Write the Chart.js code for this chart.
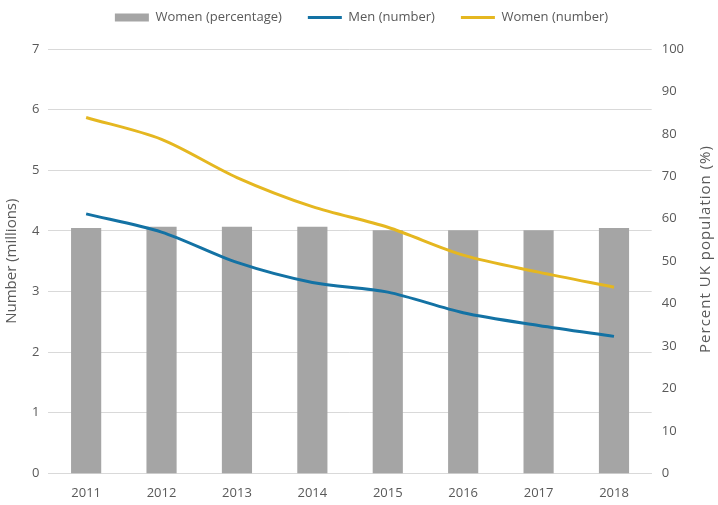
<!DOCTYPE html>
<html lang="en">
	<head>
		<meta charset="UTF-8" />
		<title>UK population chart</title>
		<script src="https://cdn.jsdelivr.net/npm/chart.js@4.4.0/dist/chart.umd.min.js"></script>
		<style>
			html, body { margin: 0; padding: 0; background: #fff; }
			#wrap { width: 718px; height: 505px; }
		</style>
	</head>
	<body>
		<div id="wrap"><canvas id="myChart"></canvas></div>
	</body>
	<script>
		var years = ["2011", "2012", "2013", "2014", "2015", "2016", "2017", "2018"];
		var womenPct = [57.8, 58.1, 58.1, 58.1, 57.3, 57.3, 57.3, 57.8];
		var menNum = [4.28, 3.98, 3.48, 3.15, 2.99, 2.65, 2.44, 2.26];
		var womenNum = [5.87, 5.51, 4.88, 4.40, 4.06, 3.60, 3.32, 3.07];

		var grey = "#595959";
		Chart.defaults.font.family = "'Open Sans', 'DejaVu Sans', sans-serif";
		Chart.defaults.font.size = 13;
		Chart.defaults.color = grey;

		// right axis title reads bottom-to-top like the left one
		var rightTitle = {
			id: "rightTitle",
			afterDraw: function (c) {
				var g = c.ctx;
				g.save();
				g.translate(706, 249);
				g.rotate(-Math.PI / 2);
				g.fillStyle = grey;
				g.font = "15px 'Open Sans', sans-serif";
				g.letterSpacing = "1px";
				g.textAlign = "center";
				g.textBaseline = "middle";
				g.fillText("Percent UK population (%)", 0, 0);
				g.restore();
			},
		};

		// extra room under the legend, and nudge it a bit to the right
		var legendTweak = {
			id: "legendTweak",
			beforeInit: function (c) {
				var fit = c.legend.fit;
				c.legend.fit = function () {
					fit.bind(c.legend)();
					this.height += 15;
				};
			},
			afterLayout: function (c) {
				c.legend.left += 13;
				c.legend.right += 13;
			},
		};

		var ctx = document.getElementById("myChart");
		var chart = new Chart(ctx, {
			type: "bar",
			data: {
				labels: years,
				datasets: [
					{
						label: "Women (percentage)",
						data: womenPct,
						backgroundColor: "#a5a5a5",
						yAxisID: "yPct",
						barPercentage: 0.8,
						categoryPercentage: 0.5,
						order: 2,
					},
					{
						type: "line",
						label: "Men (number)",
						data: menNum,
						borderColor: "#1372a4",
						backgroundColor: "#1372a4",
						borderWidth: 3,
						pointRadius: 0,
						tension: 0.3,
						yAxisID: "yNum",
						order: 1,
					},
					{
						type: "line",
						label: "Women (number)",
						data: womenNum,
						borderColor: "#e5b720",
						backgroundColor: "#e5b720",
						borderWidth: 3,
						pointRadius: 0,
						tension: 0.3,
						yAxisID: "yNum",
						order: 0,
					},
				],
			},
			plugins: [rightTitle, legendTweak],
			options: {
				responsive: true,
				maintainAspectRatio: false,
				animation: false,
				layout: { padding: { left: 3, right: 24, top: -15, bottom: 0 } },
				plugins: {
					tooltip: { enabled: false },
					legend: {
						position: "top",
						labels: {
							usePointStyle: true,
							boxHeight: 8,
							pointStyleWidth: 34,
							padding: 26,
							font: { size: 13 },
							sort: function (a, b) { return a.datasetIndex - b.datasetIndex; },
							generateLabels: function (c) {
								var items = Chart.defaults.plugins.legend.labels.generateLabels(c);
								items.forEach(function (it) {
									var ds = c.data.datasets[it.datasetIndex];
									it.pointStyle = ds.type === "line" ? "line" : "rect";
									it.lineWidth = ds.type === "line" ? 3 : 0;
									it.strokeStyle = ds.borderColor || ds.backgroundColor;
									it.fillStyle = ds.backgroundColor;
								});
								return items;
							},
						},
					},
				},
				scales: {
					x: {
						grid: { display: false },
						border: { color: "#d9d9d9" },
						ticks: { color: grey, padding: 4 },
					},
					yNum: {
						position: "left",
						min: 0,
						max: 7,
						ticks: { stepSize: 1, color: grey, padding: 9 },
						grid: { color: "#d9d9d9", drawTicks: false },
						border: { display: false },
						title: { display: true, text: "Number (millions)", color: grey, font: { size: 15 }, padding: { top: 0, bottom: 2 } },
					},
					yPct: {
						position: "right",
						min: 0,
						max: 100,
						ticks: { stepSize: 10, color: grey, padding: 10 },
						grid: { display: false, drawTicks: false },
						border: { display: false },
					},
				},
			},
		});
	</script>
</html>
